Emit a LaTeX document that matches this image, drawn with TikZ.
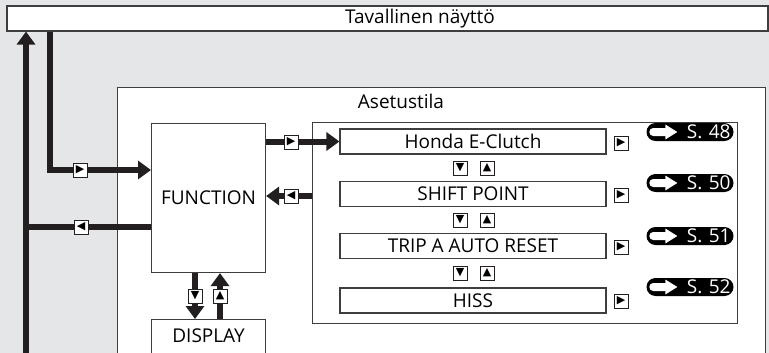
\documentclass[tikz,border=0pt]{standalone}
\usepackage{fontspec}
\setmainfont{Open Sans}
\newfontfamily\symfont{DejaVu Sans}
\usepackage{tikz}
\usetikzlibrary{positioning, arrows.meta}
\definecolor{pagegray}{RGB}{229,230,232}
\definecolor{inkdark}{RGB}{35,31,32}
\definecolor{frameline}{RGB}{62,62,62}
\tikzset{
  menubox/.style = {rectangle, draw=frameline, fill=white, line width=1.1pt,
                    inner sep=0pt, font=\fontsize{19}{21}\selectfont},
  menulabel/.style = {font=\fontsize{19}{21}\selectfont, inner sep=0pt},
  keybtn/.style = {rectangle, draw=inkdark, fill=white, line width=0.9pt,
                   minimum size=14pt, inner sep=0pt,
                   font=\symfont\fontsize{11}{11}\selectfont},
  flowline/.style = {draw=inkdark, line width=6pt},
  flowarrow/.style = {flowline, -{Triangle[length=13pt,width=18pt]}},
  pagepill/.style = {rectangle, rounded corners=9pt, fill=black, text=white,
                     minimum height=18pt, text width=81pt, align=right,
                     inner xsep=3pt, inner ysep=0pt,
                     font=\fontsize{19}{19}\selectfont},
  goarrow/.pic = {
    \fill[white] (7,-4) -- (19,-4) -- (19,-7.5) -- (31,0) -- (19,7.5)
      -- (19,4) -- (7,4) arc[start angle=90, end angle=270, radius=4] -- cycle;
  }
}

\begin{document}
\begin{tikzpicture}[x=1pt, y=-1pt]
\clip (0,0) rectangle (769,353);
\fill[pagegray] (0,0) rectangle (769,353);

% normal display and setting mode frames
\node[menubox, minimum width=761pt, minimum height=25pt] (normal) at (387.5,18.5) {};
\node[menulabel] (normaltxt) at (420,18.5) {Tavallinen näyttö};
\node[menubox, minimum width=648pt, minimum height=290pt, anchor=north west] (setup) at (117,87) {};
\node[menulabel] (setuptxt) at (401,101) {Asetustila};

% function / display
\node[menubox, minimum width=114pt, minimum height=149pt, anchor=north west] (func) at (151,123) {FUNCTION};
\node[menubox, minimum width=114pt, anchor=north west, inner ysep=4pt,
      text height=19pt, text depth=30pt] (disp) at (151,319) {DISPLAY};

% setting list
\node[menubox, minimum width=425pt, minimum height=201pt, anchor=north west] (list) at (312,122) {};
\node[menubox, minimum width=266pt, minimum height=25pt] (hec)  at (473,141.5) {Honda E-Clutch};
\node[menubox, minimum width=266pt, minimum height=25pt] (shp)  at (473,194)   {SHIFT POINT};
\node[menubox, minimum width=266pt, minimum height=25pt] (trip) at (473,246)   {TRIP A AUTO RESET};
\node[menubox, minimum width=266pt, minimum height=25pt] (hiss) at (473,300.5) {HISS};

% connectors
\coordinate (lbot) at (26,360);
\coordinate (fin)  at (50,170);
\coordinate (fout) at (26,227);
\coordinate (lret) at (312,196);
\coordinate (dn)   at (195,296);
\coordinate (up)   at (220,296);
\draw[flowarrow] (lbot) -- (normal.south -| lbot);
\draw[flowarrow] (normal.south -| fin) |- (func.west |- fin);
\draw[flowline] (func.west |- fout) -- (fout);
\draw[flowarrow] (func.east |- hec) -- (hec.west);
\draw[flowarrow] (list.west |- lret) -- (func.east |- lret);
\draw[flowarrow] (func.south -| dn) -- (disp.north -| dn);
\draw[flowarrow] (disp.north -| up) -- (func.south -| up);

% keys
\node[keybtn] (kin)   at (80,170)  {▶};
\node[keybtn] (kout)  at (81,227)  {◀};
\node[keybtn] (kgo)   at (291,142) {▶};
\node[keybtn] (kback) at (291,196) {◀};
\node[keybtn] (kdn)   at (dn)      {▼};
\node[keybtn] (kup)   at (up)      {▲};
\node[keybtn] (kdn1) at (460,168) {▼};
\node[keybtn] (kup1) at (487,168) {▲};
\node[keybtn] (kdn2) at (460,220) {▼};
\node[keybtn] (kup2) at (487,220) {▲};
\node[keybtn] (kdn3) at (460,273) {▼};
\node[keybtn] (kup3) at (487,273) {▲};
\node[keybtn] (khec)  at (621,143) {▶};
\node[keybtn] (kshp)  at (621,195) {▶};
\node[keybtn] (ktrip) at (621,247) {▶};
\node[keybtn] (khiss) at (621,301) {▶};

% page references
\node[pagepill] (p48) at (690,132) {S. 48};
\node[pagepill] (p50) at (690,183) {S. 50};
\node[pagepill] (p51) at (690,236) {S. 51};
\node[pagepill] (p52) at (690,287) {S. 52};
\pic at (p48.west) {goarrow};
\pic at (p50.west) {goarrow};
\pic at (p51.west) {goarrow};
\pic at (p52.west) {goarrow};
\end{tikzpicture}
\end{document}
